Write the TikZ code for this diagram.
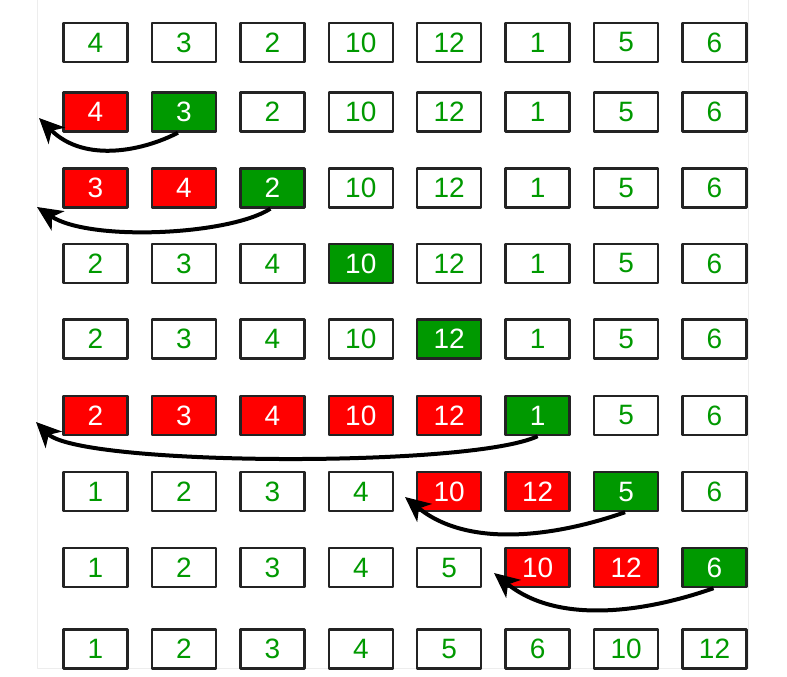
\documentclass[tikz,border=0pt]{standalone}
\usepackage{fontspec}
\setmainfont{Liberation Sans}
\usetikzlibrary{arrows.meta}
\definecolor{rouge}{RGB}{255,0,0}
\definecolor{vert}{RGB}{0,153,0}
\definecolor{bord}{RGB}{35,35,35}
\tikzset{
	cellw/.style={draw=bord,line width=2.4pt,minimum width=64pt,minimum height=39pt,inner sep=0pt,fill=white,text=vert,font=\fontsize{28}{28}\selectfont},
	cellr/.style={cellw,fill=rouge,text=white},
	cellg/.style={cellw,fill=vert,text=white},
	fleche/.style={-{Stealth[length=25pt,width=23pt,inset=7pt]},line width=4pt,black}
}
\begin{document}
\begin{tikzpicture}[x=1pt,y=-1pt,line join=round]
		%==thông số
		\def\dx{88.43}
		\def\xo{95.5}
		%==============
		\useasboundingbox (0,0) rectangle (787,677);
		\draw[black!7] (37,0)|-(748.5,668)--(748.5,0);
		\foreach \hang [count=\i] in {{4/w,3/w,2/w,10/w,12/w,1/w,5/w,6/w},
			{4/r,3/g,2/w,10/w,12/w,1/w,5/w,6/w},
			{3/r,4/r,2/g,10/w,12/w,1/w,5/w,6/w},
			{2/w,3/w,4/w,10/g,12/w,1/w,5/w,6/w},
			{2/w,3/w,4/w,10/w,12/g,1/w,5/w,6/w},
			{2/r,3/r,4/r,10/r,12/r,1/g,5/w,6/w},
			{1/w,2/w,3/w,4/w,10/r,12/r,5/g,6/w},
			{1/w,2/w,3/w,4/w,5/w,10/r,12/r,6/g},
			{1/w,2/w,3/w,4/w,5/w,6/w,10/w,12/w}}{
			\pgfmathsetmacro\yy{{42.5,112,188,263.5,339,415.5,491.5,567.5,649}[\i-1]}
			\foreach \v/\s [count=\j] in \hang {\node[cell\s] (o\i\j) at ({\xo+\dx*(\j-1)},\yy) {\v};}
		}
		\coordinate (T2) at (39,118);
		\coordinate (T3) at (37,207);
		\coordinate (T6) at (36,422);
		\coordinate (T7) at (405,497);
		\coordinate (T8) at (494,573);
		\draw[fleche] ([xshift=-6pt]o22.south) .. controls (145,150) and (85,164) .. (T2);
		\draw[fleche] ([xshift=-2pt]o33.south) .. controls (230,235) and (90,242) .. (T3);
		\draw[fleche] (o66.south) .. controls (470,468) and (80,466) .. (T6);
		\draw[fleche] ([xshift=-1pt]o77.south) .. controls (560,535) and (470,550) .. (T7);
		\draw[fleche] ([xshift=-1pt]o88.south) .. controls (649,611) and (559,626) .. (T8);
\end{tikzpicture}
\end{document}
